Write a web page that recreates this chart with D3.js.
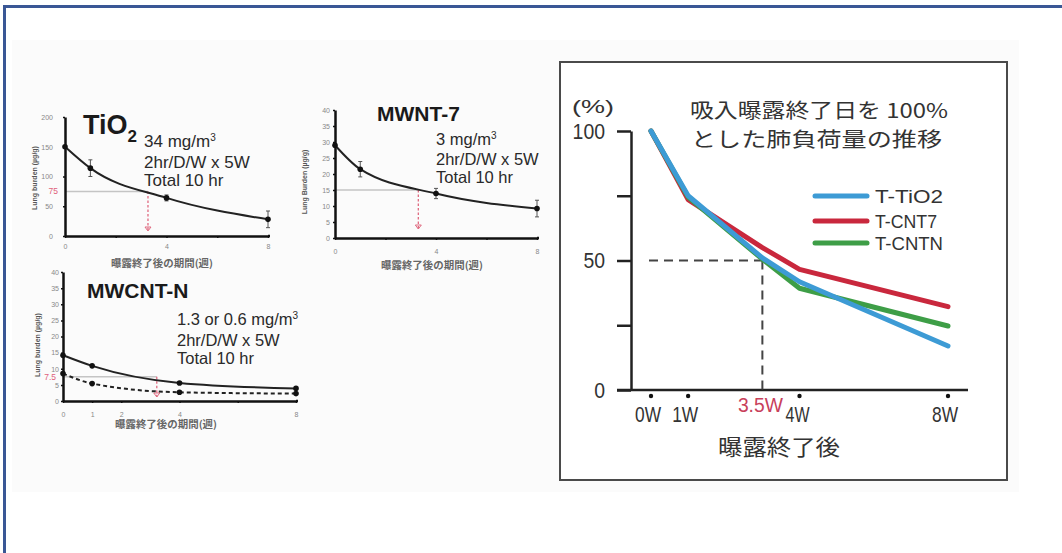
<!DOCTYPE html>
<html><head><meta charset="utf-8">
<script src="https://cdn.jsdelivr.net/npm/d3@7"></script>
<style>
html,body{margin:0;padding:0;background:#fff;}
svg{display:block;}
</style></head>
<body>
<svg id="chart" width="1062" height="553"></svg>
<script>
// ---------------- DATA ----------------
// Right chart: % of lung burden relative to end of exposure
const mainWeeks = [0, 1, 3, 4, 8];
const tio2Pct = [100, 75, 51, 41.8, 17];
const cnt7Pct = [100, 73.5, 55, 46.6, 32.2];
const cntnPct = [100, 74.5, 50.5, 39.3, 24.7];
const mainSeriesNames = ["T-TiO2", "T-CNT7", "T-CNTN"];
const mainXTicks = [0, 1, 4, 8];
const mainXTickLabels = ["0W", "1W", "4W", "8W"];
const mainYTicks = [0, 25, 50, 75, 100];
const mainYTickLabels = ["0", "", "50", "", "100"];
const halfLevel = 50;
const halfWeekDrawn = 3.0;
const halfWeekLabel = "3.5W";
const mainTitle1 = "吸入曝露終了日を 100%";
const mainTitle2 = "とした肺負荷量の推移";
const mainXTitle = "曝露終了後";
const mainYUnit = "(%)";

// Left small charts: lung burden (µg/g)
const tio2Weeks = [0, 1, 4, 8];
const tio2Burden = [150, 114, 64, 28];
const tio2Err = [0, 14, 5, 14];
const mwnt7Weeks = [0, 1, 4, 8];
const mwnt7Burden = [29, 21.5, 13.9, 9.2];
const mwnt7Err = [0, 2.4, 1.6, 2.6];
const mwcntnWeeks = [0, 1, 4, 8];
const mwcntnHigh = [14.2, 10.9, 5.6, 3.9];
const mwcntnLow = [8.5, 5.4, 2.7, 2.3];
const tio2YTicks = [0, 50, 100, 150, 200];
const cntYTicks = [0, 5, 10, 15, 20, 25, 30, 35, 40];
const halfValues = [75, 15, 7.5];
const halfLabels = ["75", "", "7.5"];
const halfWeeks = [3.27, 3.3, 3.22];
const smallXTitle = "曝露終了後の期間(週)";
const yTitle1 = "Lung burden (µg/g)";
const yTitle2 = "Lung Burden (µg/g)";

// ---------------- DRAW ----------------
const svg = d3.select("#chart");
const JP = "'Noto Sans CJK JP','Noto Sans CJK SC',sans-serif";
const SANS = "'Liberation Sans',Arial,'DejaVu Sans',sans-serif";

// background frame
svg.append("rect").attr("x", 12).attr("y", 40).attr("width", 1007).attr("height", 452).attr("fill", "#fbfbfb");
svg.append("rect").attr("x", 3).attr("y", 5).attr("width", 1059).attr("height", 3).attr("fill", "#3a5795");
svg.append("rect").attr("x", 3).attr("y", 5).attr("width", 3).attr("height", 548).attr("fill", "#3a5795");

function fit(sel, w) { return sel.attr("textLength", w).attr("lengthAdjust", "spacingAndGlyphs"); }

// ===== Right chart =====
svg.append("rect").attr("x", 560).attr("y", 62).attr("width", 447).attr("height", 418)
  .attr("fill", "#fff").attr("stroke", "#4a4a4a").attr("stroke-width", 2);

const xR = d3.scaleLinear().domain([0, 8]).range([651, 948]);
const yR = d3.scaleLinear().domain([0, 100]).range([390, 131]);
const yAxisX = 631, tickLen = 14;

const gy = svg.append("g").attr("transform", `translate(${yAxisX},0)`)
  .call(d3.axisLeft(yR).tickValues(mainYTicks).tickSize(tickLen).tickSizeOuter(0).tickPadding(12)
    .tickFormat((d, i) => mainYTickLabels[i]));
gy.select(".domain").attr("stroke", "#222").attr("stroke-width", 2.5);
gy.selectAll(".tick line").attr("stroke", "#222").attr("stroke-width", 2.5);
gy.selectAll(".tick text").attr("font-family", SANS).attr("font-size", 22).attr("fill", "#333")
  .each(function () { const t = d3.select(this).text(); if (t) fit(d3.select(this), 10.8 * t.length); });

// x axis line
svg.append("line").attr("x1", yAxisX - tickLen).attr("x2", xR(8) + 20)
  .attr("y1", yR(0)).attr("y2", yR(0)).attr("stroke", "#222").attr("stroke-width", 2.5);
// x tick dots + labels
svg.selectAll(".xdot").data(mainXTicks).join("circle").attr("class", "xdot")
  .attr("cx", d => xR(d)).attr("cy", yR(0) + 6).attr("r", 2.2).attr("fill", "#111");
svg.selectAll(".xlab").data(mainXTicks).join("text").attr("class", "xlab")
  .attr("x", d => xR(d) - 3 + (d === 4 ? 1 : 0)).attr("y", yR(0) + 32).attr("text-anchor", "middle")
  .attr("font-family", SANS).attr("font-size", 22).attr("fill", "#333")
  .text((d, i) => mainXTickLabels[i])
  .each(function (d) { fit(d3.select(this), d === 4 ? 24 : 26); });

// unit + titles
fit(svg.append("text").attr("x", 572).attr("y", 113).attr("font-family", SANS).attr("font-size", 19)
  .attr("fill", "#333").text(mainYUnit), 42);
fit(svg.append("text").attr("x", 690).attr("y", 118).attr("font-family", JP).attr("font-size", 20)
  .attr("fill", "#333").text(mainTitle1), 258);
fit(svg.append("text").attr("x", 691).attr("y", 147).attr("font-family", JP).attr("font-size", 20)
  .attr("fill", "#333").text(mainTitle2), 251);
fit(svg.append("text").attr("x", 779).attr("y", 455).attr("text-anchor", "middle").attr("font-family", JP)
  .attr("font-size", 22).attr("fill", "#333").text(mainXTitle), 122);

// dashed guide lines
svg.append("line").attr("x1", xR(0) - 2).attr("x2", xR(halfWeekDrawn)).attr("y1", yR(halfLevel)).attr("y2", yR(halfLevel))
  .attr("stroke", "#444").attr("stroke-width", 2).attr("stroke-dasharray", "9,6");
svg.append("line").attr("x1", xR(halfWeekDrawn)).attr("x2", xR(halfWeekDrawn)).attr("y1", yR(halfLevel)).attr("y2", yR(0))
  .attr("stroke", "#444").attr("stroke-width", 2).attr("stroke-dasharray", "9,6");
fit(svg.append("text").attr("x", xR(halfWeekDrawn) - 2).attr("y", yR(0) + 22).attr("text-anchor", "middle")
  .attr("font-family", SANS).attr("font-size", 20).attr("fill", "#c8405a").text(halfWeekLabel), 45);

// series lines
const colors = { "T-TiO2": "#3d9bd5", "T-CNT7": "#c9283d", "T-CNTN": "#3e9e47" };
const seriesVals = { "T-TiO2": tio2Pct, "T-CNT7": cnt7Pct, "T-CNTN": cntnPct };
const lineR = d3.line().x((d, i) => xR(mainWeeks[i])).y(d => yR(d));
["T-CNT7", "T-CNTN", "T-TiO2"].forEach(name => {
  svg.append("path").attr("d", lineR(seriesVals[name])).attr("fill", "none")
    .attr("stroke", colors[name]).attr("stroke-width", 5).attr("stroke-linejoin", "round").attr("stroke-linecap", "round");
});
// legend
const legY = [196, 221, 243];
mainSeriesNames.forEach((name, i) => {
  svg.append("line").attr("x1", 815).attr("x2", 867).attr("y1", legY[i]).attr("y2", legY[i])
    .attr("stroke", colors[name]).attr("stroke-width", 5).attr("stroke-linecap", "round");
  fit(svg.append("text").attr("x", 875).attr("y", legY[i] + 7).attr("font-family", SANS).attr("font-size", 19)
    .attr("fill", "#333").text(name), i === 1 ? 62 : 68);
});

// ===== Left small charts =====
function panel(cfg) {
  const g = svg.append("g");
  const x = d3.scaleLinear().domain([0, 8]).range(cfg.xr);
  const y = d3.scaleLinear().domain(cfg.yd).range(cfg.yr);
  // reference grey line & red arrow
  g.append("line").attr("x1", x(0)).attr("x2", x(cfg.halfW)).attr("y1", y(cfg.halfV)).attr("y2", y(cfg.halfV))
    .attr("stroke", "#c4c4c4").attr("stroke-width", 1.5);
  g.append("line").attr("x1", x(cfg.halfW)).attr("x2", x(cfg.halfW)).attr("y1", y(cfg.halfV)).attr("y2", cfg.arrowEnd)
    .attr("stroke", "#e06a80").attr("stroke-width", 1.3).attr("stroke-dasharray", "2.5,2");
  const ax = x(cfg.halfW), ay = cfg.arrowEnd;
  g.append("path").attr("d", `M${ax - 3},${ay - 4}L${ax + 3},${ay - 4}L${ax},${ay}Z`)
    .attr("fill", "none").attr("stroke", "#e06a80").attr("stroke-width", 1);
  if (cfg.halfLabel) {
    g.append("text").attr("x", cfg.xr[0] - 7).attr("y", y(cfg.halfV) + 3).attr("text-anchor", "end")
      .attr("font-family", SANS).attr("font-size", 8.5).attr("fill", "#e0607a").text(cfg.halfLabel);
  }
  // axes
  const gy = g.append("g").attr("transform", `translate(${cfg.xr[0]},0)`)
    .call(d3.axisLeft(y).tickValues(cfg.yTicks).tickSize(2).tickSizeOuter(0).tickPadding(cfg.yPad));
  const gx = g.append("g").attr("transform", `translate(0,${cfg.yr[0]})`)
    .call(d3.axisBottom(x).tickValues(cfg.xMarks).tickSize(2).tickSizeOuter(0).tickPadding(cfg.xPad)
      .tickFormat(d => cfg.xLabels.includes(d) ? d : ""));
  [gy, gx].forEach(a => {
    a.select(".domain").attr("stroke", "#111").attr("stroke-width", 2.5);
    a.selectAll(".tick line").attr("stroke", "#111").attr("stroke-width", 1.5);
    a.selectAll(".tick text").attr("font-family", SANS).attr("font-size", 7).attr("fill", "#888");
  });
  g.append("line").attr("x1", cfg.xr[1]).attr("x2", cfg.xr[1] + 2).attr("y1", cfg.yr[0]).attr("y2", cfg.yr[0])
    .attr("stroke", "#111").attr("stroke-width", 2.5);
  // titles
  g.append("text").attr("transform", `translate(${cfg.yTitleX},${cfg.yTitleY}) rotate(-90)`)
    .attr("text-anchor", "middle").attr("font-family", SANS).attr("font-size", 7).attr("font-weight", "bold")
    .attr("fill", "#555").text(cfg.yTitle);
  if (cfg.xTitleY) {
    fit(g.append("text").attr("x", cfg.xTitleX).attr("y", cfg.xTitleY).attr("text-anchor", "middle")
      .attr("font-family", JP).attr("font-size", 10).attr("font-weight", "bold").attr("fill", "#666")
      .text(smallXTitle), 102);
  }
  // series
  const line = d3.line().curve(d3.curveMonotoneX).x((d, i) => x(cfg.weeks[i])).y(d => y(d));
  cfg.series.forEach(s => {
    g.append("path").attr("d", line(s.vals)).attr("fill", "none").attr("stroke", "#222")
      .attr("stroke-width", 2).attr("stroke-dasharray", s.dash || null);
    if (s.err) {
      s.err.forEach((e, i) => {
        if (!e) return;
        const cx = x(cfg.weeks[i]);
        g.append("path").attr("d", `M${cx},${y(s.vals[i] - e)}V${y(s.vals[i] + e)}M${cx - 2},${y(s.vals[i] - e)}H${cx + 2}M${cx - 2},${y(s.vals[i] + e)}H${cx + 2}`)
          .attr("stroke", "#555").attr("stroke-width", 1).attr("fill", "none");
      });
    }
    g.selectAll(null).data(s.vals).join("circle").attr("cx", (d, i) => x(cfg.weeks[i])).attr("cy", d => y(d))
      .attr("r", 2.8).attr("fill", "#111");
  });
  // labels
  const t = g.append("text").attr("x", cfg.nameX).attr("y", cfg.nameY).attr("font-family", SANS)
    .attr("font-weight", "bold").attr("font-size", cfg.nameSize).attr("fill", "#1a1a1a");
  t.append("tspan").text(cfg.name);
  if (cfg.nameSub) t.append("tspan").attr("dy", 8).attr("font-size", 17).text(cfg.nameSub);
  cfg.info.forEach((line, i) => {
    const tt = g.append("text").attr("x", cfg.infoX).attr("y", cfg.infoY[i]).attr("font-family", SANS)
      .attr("font-size", cfg.infoSize).attr("fill", "#2a2a2a");
    tt.append("tspan").text(line);
    if (i === 0) tt.append("tspan").attr("dy", -6).attr("font-size", 10).text("3");
  });
}

panel({
  xr: [65, 268], yr: [236, 117], yd: [0, 200], yTicks: tio2YTicks, yPad: 10,
  xMarks: [0, 2, 4, 6, 8], xLabels: [0, 4, 8], xPad: 6,
  weeks: tio2Weeks, series: [{ vals: tio2Burden, err: tio2Err }],
  halfV: halfValues[0], halfW: halfWeeks[0], halfLabel: halfLabels[0], arrowEnd: 231,
  yTitle: yTitle1, yTitleX: 37, yTitleY: 178, xTitleX: 162, xTitleY: 267,
  name: "TiO", nameSub: "2", nameSize: 27, nameX: 83, nameY: 134,
  info: ["34 mg/m", "2hr/D/W x 5W", "Total 10 hr"], infoX: 144, infoY: [147, 168, 186], infoSize: 17
});
panel({
  xr: [335, 537], yr: [238, 110], yd: [0, 40], yTicks: cntYTicks, yPad: 3,
  xMarks: [0, 2, 4, 6, 8], xLabels: [0, 4, 8], xPad: 9,
  weeks: mwnt7Weeks, series: [{ vals: mwnt7Burden, err: mwnt7Err }],
  halfV: halfValues[1], halfW: halfWeeks[1], halfLabel: halfLabels[1], arrowEnd: 229,
  yTitle: yTitle2, yTitleX: 307, yTitleY: 182, xTitleX: 432, xTitleY: 269,
  name: "MWNT-7", nameSize: 21, nameX: 377, nameY: 121,
  info: ["3 mg/m", "2hr/D/W x 5W", "Total 10 hr"], infoX: 436, infoY: [145, 165, 183], infoSize: 16.5
});
panel({
  xr: [63, 296], yr: [401, 272], yd: [0, 40], yTicks: cntYTicks, yPad: 2,
  xMarks: [0, 1, 2, 4, 6, 8], xLabels: [0, 1, 2, 4, 8], xPad: 9,
  weeks: mwcntnWeeks, series: [{ vals: mwcntnHigh }, { vals: mwcntnLow, dash: "4,3" }],
  halfV: halfValues[2], halfW: halfWeeks[2], halfLabel: halfLabels[2], arrowEnd: 397,
  yTitle: yTitle1, yTitleX: 40, yTitleY: 345, xTitleX: 166, xTitleY: 428,
  name: "MWCNT-N", nameSize: 21, nameX: 87, nameY: 298,
  info: ["1.3 or 0.6 mg/m", "2hr/D/W x 5W", "Total 10 hr"], infoX: 177, infoY: [325, 346, 364], infoSize: 16.5
});
</script>
</body></html>
